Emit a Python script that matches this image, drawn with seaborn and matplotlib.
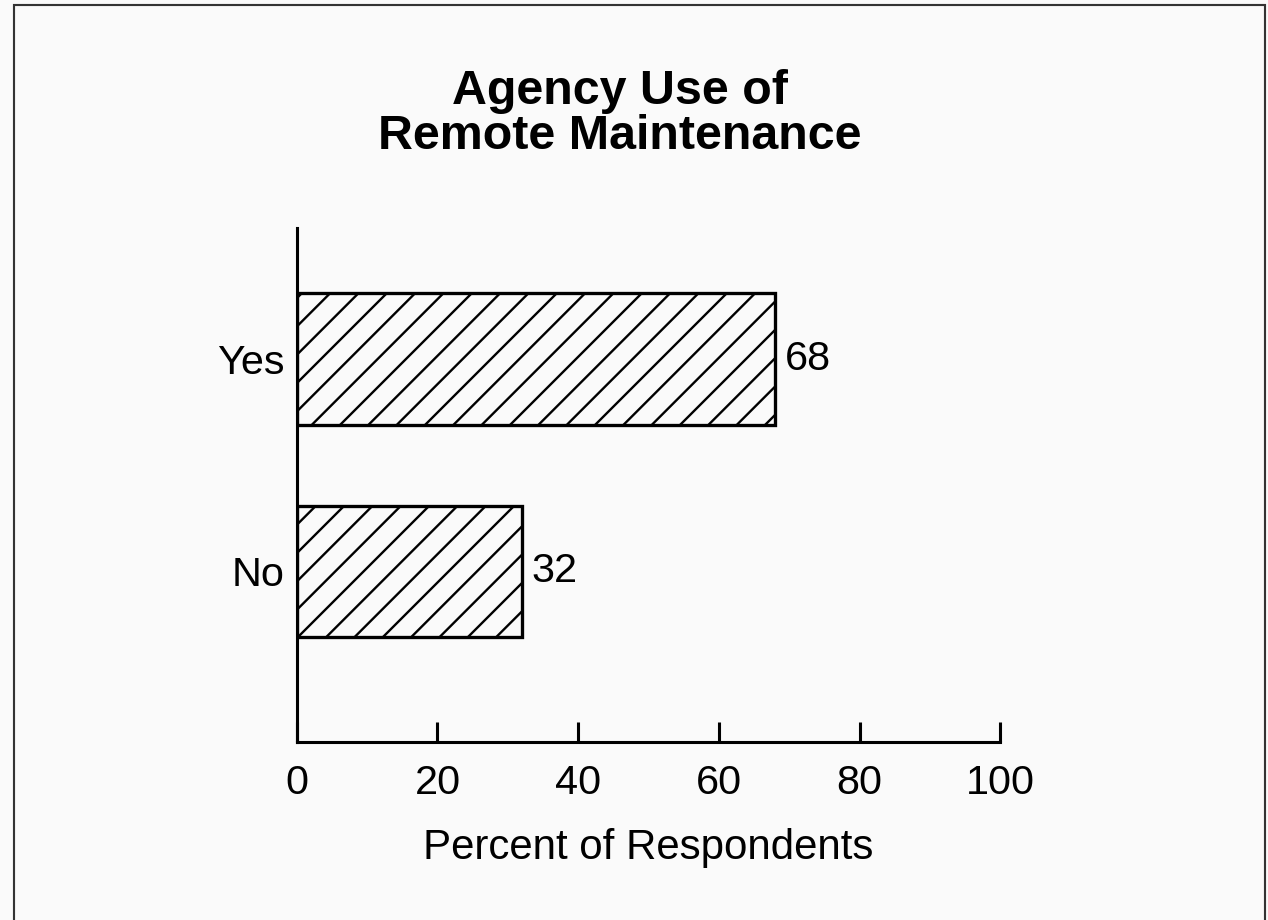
import matplotlib
matplotlib.use("Agg")
import matplotlib.pyplot as plt
import matplotlib.patches as mpatches
import pandas as pd
import seaborn as sns

# chart data
answers = ["Yes", "No"]
percents = [68, 32]
x_ticks = [0, 20, 40, 60, 80, 100]

df = pd.DataFrame({"answer": answers, "percent": percents})

sns.set_style("white")
plt.rcParams['font.family'] = ['Liberation Sans', 'DejaVu Sans']
plt.rcParams['hatch.linewidth'] = 1.0
plt.rcParams['text.color'] = 'black'
plt.rcParams['xtick.color'] = 'black'
plt.rcParams['ytick.color'] = 'black'
plt.rcParams['axes.labelcolor'] = 'black'

DPI = 170
fig = plt.figure(figsize=(1268 / DPI, 920 / DPI), dpi=DPI, facecolor="#fafafa")
ax = fig.add_axes([0.234, 0.193, 0.555, 0.559])
ax.set_facecolor("#fafafa")

sns.barplot(data=df, x="percent", y="answer", orient="h", width=0.62,
            color="white", edgecolor="black", linewidth=1.4, ax=ax)
for bar in ax.patches:
    bar.set_hatch("//")
    bar.set_facecolor("#fafafa")

labels = ax.bar_label(ax.containers[0], labels=[str(v) for v in percents],
                      padding=4, fontsize=17.5, color="black")

ax.set_xlim(0, 100)
ax.set_ylim(1.807, -0.618)
ax.set_xticks(x_ticks)
ax.set_xticklabels([str(t) for t in x_ticks])
ax.tick_params(axis="x", direction="in", length=8.5, width=1.3,
               labelsize=17.5, pad=9, bottom=True, colors="black")
ax.tick_params(axis="y", length=0, labelsize=17.5, pad=5, colors="black")
sns.despine(ax=ax, top=True, right=True)
for s in ["left", "bottom"]:
    ax.spines[s].set_linewidth(1.3)
    ax.spines[s].set_color("black")
ax.set_ylabel("")
ax.set_xlabel("Percent of Respondents", fontsize=17.8, labelpad=11, color="black")

fig.text(0.489, 0.876, "Agency Use of\nRemote Maintenance", ha="center",
         va="center", fontsize=20.5, fontweight="bold", linespacing=1.0,
         color="black")

# frame around the whole figure
fig.patches.append(mpatches.Rectangle((14 / 1268, -0.01), 1251 / 1268, 1 - 5 / 920 + 0.01,
                                      transform=fig.transFigure, fill=False,
                                      edgecolor="#333333", linewidth=0.9))

fig.savefig("out.png", dpi=DPI, facecolor=fig.get_facecolor())
